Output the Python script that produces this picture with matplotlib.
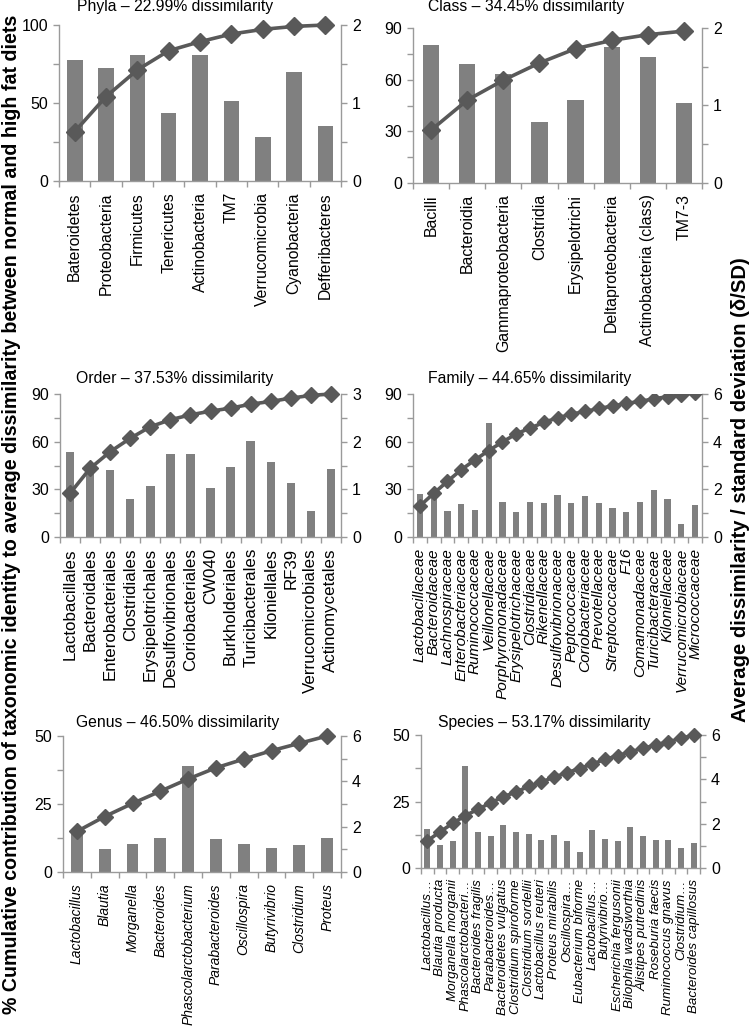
import matplotlib
matplotlib.use('Agg')
import matplotlib.pyplot as plt
import numpy as np
from matplotlib.ticker import MultipleLocator, FormatStrFormatter

plt.rcParams['font.family'] = ['Liberation Sans', 'DejaVu Sans']

# ---------------- data ----------------
phyla_labels = ['Bateroidetes', 'Proteobacteria', 'Firmicutes', 'Tenericutes', 'Actinobacteria',
                'TM7', 'Verrucomicrobia', 'Cyanobacteria', 'Defferibacteres']
phyla_ratio = [1.55, 1.45, 1.62, 0.87, 1.62, 1.02, 0.56, 1.40, 0.71]
phyla_cum = [31.6, 54.1, 71.2, 83.5, 89.3, 94.2, 97.2, 99.1, 100.0]

class_labels = ['Bacilli', 'Bacteroidia', 'Gammaproteobacteria', 'Clostridia', 'Erysipelotrichi',
                'Deltaproteobacteria', 'Actinobacteria (class)', 'TM7-3']
class_ratio = [1.78, 1.54, 1.40, 0.79, 1.07, 1.75, 1.63, 1.03]
class_cum = [30.7, 48.1, 59.7, 69.7, 78.0, 82.8, 86.1, 88.2]

order_labels = ['Lactobacillales', 'Bacteroidales', 'Enterobacteriales', 'Clostridiales',
                'Erysipelotrichales', 'Desulfovibrionales', 'Coriobacteriales', 'CW040',
                'Burkholderiales', 'Turicibacterales', 'Kiloniellales', 'RF39',
                'Verrucomicrobiales', 'Actinomycetales']
order_ratio = [1.78, 1.43, 1.40, 0.80, 1.06, 1.74, 1.74, 1.03, 1.46, 2.01, 1.58, 1.13, 0.55, 1.42]
order_cum = [27.5, 43.2, 53.7, 62.1, 69.4, 73.8, 76.9, 79.2, 81.1, 83.6, 85.3, 87.4, 89.1, 90.0]

family_labels = ['Lactobacillaceae', 'Bacteroidaceae', 'Lachnospiraceae', 'Enterobacteriaceae',
                 'Ruminococcaceae', 'Veillonellaceae', 'Porphyromonadaceae', 'Erysipelotrichaceae',
                 'Clostridiaceae', 'Rikenellaceae', 'Desulfovibrionaceae', 'Peptococcaceae',
                 'Coriobacteriaceae', 'Prevotellaceae', 'Streptococcaceae', 'F16',
                 'Comamonadaceae', 'Turicibacteraceae', 'Kiloniellaceae', 'Verrucomicrobiaceae',
                 'Micrococcaceae']
family_ratio = [1.80, 1.78, 1.10, 1.39, 1.14, 4.80, 1.45, 1.05, 1.46, 1.43, 1.77, 1.42, 1.74,
                1.43, 1.22, 1.03, 1.46, 1.98, 1.60, 0.55, 1.36]
family_cum = [19.6, 27.4, 35.0, 42.3, 48.5, 54.4, 59.8, 64.9, 68.5, 72.1, 75.0, 77.3, 79.0,
              80.9, 82.4, 84.1, 85.3, 87.0, 88.3, 89.5, 90.6]

genus_labels = ['Lactobacillus', 'Blautia', 'Morganella', 'Bacteroides', 'Phascolarctobacterium',
                'Parabacteroides', 'Oscillospira', 'Butyrivibrio', 'Clostridium', 'Proteus']
genus_ratio = [1.85, 1.01, 1.25, 1.49, 4.69, 1.44, 1.24, 1.06, 1.19, 1.49]
genus_cum = [14.9, 20.4, 25.2, 29.7, 34.2, 38.3, 41.5, 44.6, 47.3, 50.0]

species_labels = ['Lactobacillus\u2026', 'Blautia producta', 'Morganella morganii',
                  'Phascolarctobacteri\u2026', 'Bacteroides fragilis', 'Parabacteroides\u2026',
                  'Bacteroidetes vulgatus', 'Clostridium spiroforme', 'Clostridium sordellii',
                  'Lactobacillus reuteri', 'Proteus mirabilis', 'Oscillospira\u2026',
                  'Eubacterium biforme', 'Lactobacillus\u2026', 'Butyrivibrio\u2026',
                  'Escherichia fergusonii', 'Bilophila wadsworthia', 'Alistipes putredinis',
                  'Roseburia faecis', 'Ruminococcus gnavus', 'Clostridium\u2026',
                  'Bacteroides capillosus']
species_ratio = [1.78, 1.03, 1.22, 4.59, 1.64, 1.43, 1.93, 1.64, 1.52, 1.25, 1.51, 1.24, 0.72,
                 1.70, 1.33, 1.22, 1.84, 1.45, 1.25, 1.25, 0.92, 1.15]
species_cum = [10.2, 13.6, 16.8, 19.7, 22.1, 24.5, 26.8, 28.6, 30.7, 32.3, 34.2, 35.8, 37.4,
               39.1, 40.8, 42.2, 43.7, 45.0, 46.2, 47.5, 48.7, 50.0]

titles = ['Phyla \u2013 22.99% dissimilarity', 'Class \u2013 34.45% dissimilarity',
          'Order \u2013 37.53% dissimilarity', 'Family \u2013 44.65% dissimilarity',
          'Genus \u2013 46.50% dissimilarity', 'Species \u2013 53.17% dissimilarity']

left_label = ('% Cumulative contribution of taxonomic identity to average dissimilarity '
              'between normal and high fat diets')
right_label = 'Average dissimilarity / standard deviation (\u03b4/SD)'

# ---------------- layout ----------------
W, H = 752, 1027
fig = plt.figure(figsize=(W / 100, H / 100), dpi=100)

BAR = '#808080'
LINE = '#595959'
SPINE = '#9A9A9A'

# ref = (index of a tick label, its length in px in the reference) used to size tick labels
panels = [
    dict(labels=phyla_labels, ratio=phyla_ratio, cum=phyla_cum, title=titles[0],
         rect=(59, 25, 341, 181), lmax=100, lmaj=50, lmin=25, rmax=2, rmaj=1, rmin=0.5,
         italic=False, ref=(6, 113), tpos=(77, 7), clip=False, ms=9, bw=0.5),
    dict(labels=class_labels, ratio=class_ratio, cum=class_cum, title=titles[1],
         rect=(413, 28, 702, 183), lmax=90, lmaj=30, lmin=15, rmax=2, rmaj=1, rmin=0.5,
         italic=False, ref=(2, 157), tpos=(428, 7), clip=False, ms=9, bw=0.45),
    dict(labels=order_labels, ratio=order_ratio, cum=order_cum, title=titles[2],
         rect=(60, 394, 341, 537), lmax=90, lmaj=30, lmin=15, rmax=3, rmaj=1, rmin=0.5,
         italic=False, ref=(0, 110), tpos=(76, 378), clip=False, ms=8.5, bw=0.42),
    dict(labels=family_labels, ratio=family_ratio, cum=family_cum, title=titles[3],
         rect=(413, 394, 702, 537), lmax=90, lmaj=30, lmin=15, rmax=6, rmaj=2, rmin=1,
         italic=True, ref=(0, 115), tpos=(428, 378), clip=True, ms=7.5, bw=0.45),
    dict(labels=genus_labels, ratio=genus_ratio, cum=genus_cum, title=titles[4],
         rect=(63, 736, 341, 872), lmax=50, lmaj=25, lmin=12.5, rmax=6, rmaj=2, rmin=1,
         italic=True, ref=(4, 141), tpos=(76, 722), clip=False, ms=8.5, bw=0.43),
    dict(labels=species_labels, ratio=species_ratio, cum=species_cum, title=titles[5],
         rect=(421, 735, 700, 868), lmax=50, lmaj=25, lmin=12.5, rmax=6, rmaj=2, rmin=1,
         italic=True, ref=(6, 135), tpos=(438, 722), clip=False, ms=7.5, bw=0.47),
]

axes = []
for p in panels:
    l, t, r, b = p['rect']
    ax = fig.add_axes([l / W, 1 - b / H, (r - l) / W, (b - t) / H])
    ax2 = ax.twinx()
    n = len(p['labels'])
    x = np.arange(n)
    ax2.bar(x, p['ratio'], width=p['bw'], color=BAR, zorder=1)
    ax.plot(x, p['cum'], color=LINE, lw=2.6, marker='D', ms=p['ms'],
            markerfacecolor=LINE, markeredgecolor=LINE, clip_on=p['clip'], zorder=3)
    ax.set_zorder(ax2.get_zorder() + 1)
    ax.patch.set_visible(False)

    ax.set_xlim(-0.5, n - 0.5)
    ax.set_ylim(0, p['lmax'])
    ax2.set_ylim(0, p['rmax'])

    for s in ['top', 'right']:
        ax.spines[s].set_visible(False)
    for s in ['top', 'left', 'bottom']:
        ax2.spines[s].set_visible(False)
    for s in ['left', 'bottom']:
        ax.spines[s].set_color(SPINE)
        ax.spines[s].set_linewidth(1.0)
    ax2.spines['right'].set_color(SPINE)
    ax2.spines['right'].set_linewidth(1.0)

    ax.yaxis.set_major_locator(MultipleLocator(p['lmaj']))
    ax.yaxis.set_minor_locator(MultipleLocator(p['lmin']))
    ax2.yaxis.set_major_locator(MultipleLocator(p['rmaj']))
    ax2.yaxis.set_minor_locator(MultipleLocator(p['rmin']))
    for a in (ax, ax2):
        a.tick_params(axis='y', which='both', direction='out', length=4, width=1,
                      color=SPINE, labelsize=11.5, pad=4)
    ax.yaxis.set_major_formatter(FormatStrFormatter('%g'))
    ax2.yaxis.set_major_formatter(FormatStrFormatter('%g'))

    ax.set_xticks(x)
    ax.set_xticklabels(p['labels'], rotation=90, fontsize=11,
                       fontstyle='italic' if p['italic'] else 'normal')
    ax.set_xticks(np.arange(-0.5, n, 1.0), minor=True)
    ax.tick_params(axis='x', which='major', length=0, pad=8)
    ax.tick_params(axis='x', which='minor', direction='out', length=4, width=1, color=SPINE)

    tx, ty = p['tpos']
    fig.text(tx / W, 1 - ty / H, p['title'], fontsize=11.3, ha='left', va='center')
    axes.append(ax)

lt = fig.text(12 / W, 1 - 514 / H, left_label, rotation=90, fontsize=14, fontweight='bold',
              ha='center', va='center')
rt = fig.text(740 / W, 1 - 490 / H, right_label, rotation=90, fontsize=14, fontweight='bold',
              ha='center', va='center')

# size the rotated texts so that their lengths match the reference
fig.canvas.draw()
renderer = fig.canvas.get_renderer()
for ax, p in zip(axes, panels):
    idx, target = p['ref']
    lab = ax.get_xticklabels()[idx]
    h = lab.get_window_extent(renderer).height
    fs = lab.get_fontsize() * target / h
    for lb in ax.get_xticklabels():
        lb.set_fontsize(fs)
for txt, target in ((lt, 1000), (rt, 465)):
    h = txt.get_window_extent(renderer).height
    txt.set_fontsize(txt.get_fontsize() * target / h)

fig.savefig('out.png', dpi=100)
